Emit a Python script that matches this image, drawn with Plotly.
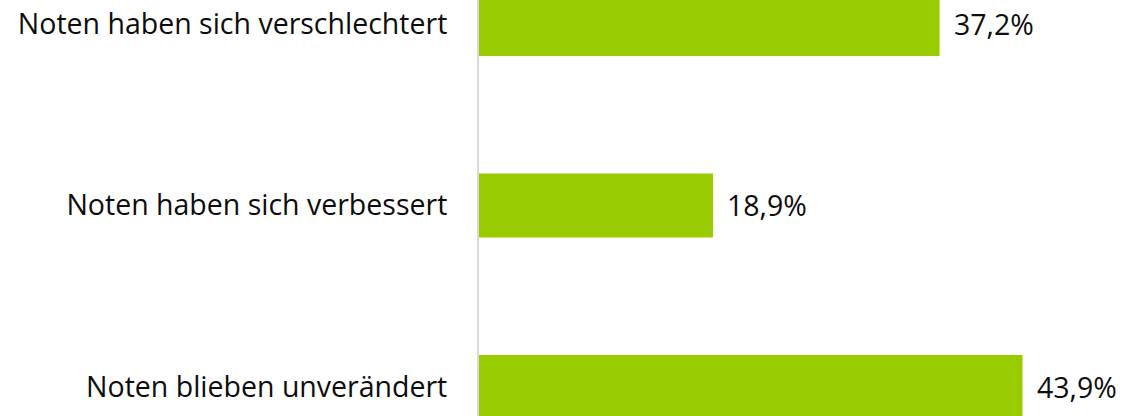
import plotly.graph_objects as go

categories = ["Noten blieben unverändert", "Noten haben sich verbessert", "Noten haben sich verschlechtert"]
values = [43.9, 18.9, 37.2]
labels = [f"{v:.1f}%".replace(".", ",") for v in values]

ypos = list(range(len(categories)))
FONT = "Open Sans"
FS = 28.5

fig = go.Figure(go.Bar(
    x=values, y=ypos, orientation="h",
    marker=dict(color="#99CC00", line=dict(width=0)),
    width=0.353,
    hoverinfo="skip",
))

for v, y, t in zip(values, ypos, labels):
    fig.add_annotation(x=v, y=y, text=t, showarrow=False, xanchor="left",
                       yanchor="middle", xshift=12,
                       font=dict(family=FONT, size=FS, color="#0d0d0d"))

fig.update_layout(
    width=1126, height=416,
    margin=dict(l=479, r=0, t=0, b=0, autoexpand=False),
    plot_bgcolor="white", paper_bgcolor="white",
    showlegend=False,
    font=dict(family=FONT, size=FS, color="#0d0d0d"),
    xaxis=dict(range=[0, 52.26], visible=False, showgrid=False, zeroline=False,
               automargin=False),
    yaxis=dict(range=[-0.160, 2.132], tickvals=ypos, ticktext=categories,
               showline=True, linecolor="#d9d9d9", linewidth=2, automargin=False,
               showgrid=False, zeroline=False, ticks="", ticklabelstandoff=24,
               ticklabeloverflow="allow",
               tickfont=dict(family=FONT, size=FS, color="#0d0d0d")),
)

fig.write_html("out.html", config={"displayModeBar": False},
               post_script="document.body.style.margin='0';")
